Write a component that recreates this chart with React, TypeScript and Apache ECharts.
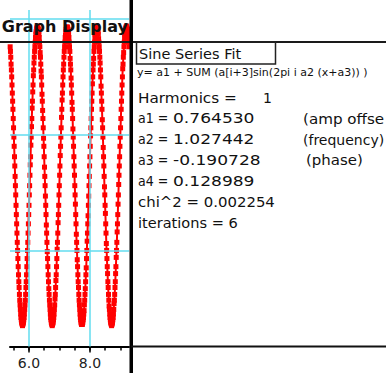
import React, { useEffect, useRef } from "react";
import * as echarts from "echarts";

// ---- data ----
const timeStart = 5.382; // first sample time
const sampleStep = 0.01014; // sampling interval
const signal = [
  // descending from first (clipped) peak
  0.876, 0.872, 0.867, 0.861, 0.856, 0.850, 0.843, 0.836, 0.829, 0.822, 0.814, 0.806, 0.798, 0.790, 0.781, 0.773,
  0.764,
  0.756, 0.748, 0.739, 0.731, 0.723, 0.715, 0.707, 0.700, 0.693, 0.686, 0.679, 0.673, 0.668, 0.662, 0.657, 0.653, 0.649, 0.645, 0.642, 0.640, 0.638, 0.637, 0.636, 0.635,
  0.636, 0.637, 0.638, 0.640, 0.642, 0.645, 0.649, 0.653, 0.657, 0.662, 0.668, 0.673, 0.679, 0.686, 0.693, 0.700, 0.707, 0.715, 0.723, 0.731, 0.739, 0.748, 0.756,
  // cycle 1
  0.765, 0.774, 0.781, 0.791, 0.798, 0.807, 0.814, 0.823, 0.829, 0.837, 0.843, 0.851, 0.856, 0.862, 0.867, 0.872, 0.876, 0.880, 0.884, 0.887, 0.889, 0.891, 0.892, 0.893, 0.894,
  0.893, 0.892, 0.891, 0.889, 0.887, 0.884, 0.880, 0.876, 0.871, 0.867, 0.861, 0.855, 0.850, 0.843, 0.835, 0.829, 0.821, 0.814, 0.806, 0.797, 0.790, 0.781, 0.772,
  0.764,
  0.756, 0.747, 0.739, 0.731, 0.722, 0.715, 0.707, 0.699, 0.693, 0.686, 0.679, 0.673, 0.667, 0.662, 0.657, 0.653, 0.649, 0.645, 0.642, 0.640, 0.638, 0.637, 0.636, 0.635,
  0.636, 0.637, 0.638, 0.640, 0.642, 0.645, 0.649, 0.653, 0.658, 0.662, 0.668, 0.674, 0.679, 0.686, 0.693, 0.701, 0.707, 0.715, 0.724, 0.731, 0.739, 0.748, 0.756,
  // cycle 2
  0.765, 0.773, 0.782, 0.790, 0.798, 0.806, 0.815, 0.822, 0.830, 0.836, 0.843, 0.850, 0.856, 0.861, 0.867, 0.872, 0.876, 0.880, 0.884, 0.886, 0.889, 0.891, 0.892, 0.893, 0.893,
  0.893, 0.892, 0.891, 0.889, 0.887, 0.884, 0.880, 0.876, 0.872, 0.866, 0.861, 0.856, 0.849, 0.843, 0.836, 0.828, 0.822, 0.814, 0.805, 0.798, 0.790, 0.781, 0.773,
  0.765,
  0.756, 0.748, 0.740, 0.731, 0.723, 0.714, 0.707, 0.700, 0.692, 0.686, 0.679, 0.673, 0.668, 0.662, 0.657, 0.653, 0.649, 0.645, 0.642, 0.640, 0.638, 0.637, 0.636, 0.636,
  0.636, 0.637, 0.638, 0.640, 0.642, 0.645, 0.648, 0.653, 0.657, 0.662, 0.667, 0.673, 0.679, 0.685, 0.693, 0.700, 0.708, 0.715, 0.723, 0.730, 0.739, 0.747, 0.756,
  // cycle 3
  0.764, 0.773, 0.781, 0.790, 0.799, 0.806, 0.814, 0.822, 0.829, 0.836, 0.844, 0.850, 0.856, 0.861, 0.866, 0.872, 0.876, 0.880, 0.884, 0.887, 0.889, 0.891, 0.892, 0.893, 0.894,
  0.893, 0.892, 0.891, 0.889, 0.887, 0.883, 0.880, 0.876, 0.872, 0.867, 0.862, 0.856, 0.850, 0.842, 0.836, 0.829, 0.822, 0.813, 0.806, 0.798, 0.789, 0.781, 0.773,
  0.764,
  0.755, 0.748, 0.739, 0.732, 0.723, 0.715, 0.706, 0.700, 0.693, 0.686, 0.680, 0.673, 0.668, 0.662, 0.657, 0.652, 0.649, 0.645, 0.642, 0.640, 0.638, 0.637, 0.636, 0.635,
  0.636, 0.637, 0.638, 0.640, 0.642, 0.645, 0.649, 0.654, 0.657, 0.662, 0.668, 0.673, 0.680, 0.686, 0.694, 0.700, 0.707, 0.716, 0.723, 0.731, 0.740, 0.748, 0.757,
  // cycle 4 (partial)
  0.765, 0.773, 0.781, 0.790, 0.798, 0.806, 0.814, 0.822, 0.829, 0.836, 0.843, 0.850, 0.857, 0.861, 0.867, 0.871, 0.876, 0.880, 0.884, 0.887, 0.889, 0.891, 0.892, 0.893, 0.894,
  0.893, 0.892, 0.891, 0.889, 0.887, 0.884, 0.880, 0.876,
];

const xMin = 5.377;
const xMax = 9.279;
const yMin = 0.617;
const yMax = 0.9078;
const xMinorTicks = [5.5, 6, 6.5, 7, 7.5, 8, 8.5, 9];
const xMajorTicks = [6, 8];
const yGridValues = [0.9, 0.8, 0.7];
const xGridValues = [6, 8];

const titleText = "Graph Display";
const fitTitle = "Sine Series Fit";
const fitEquation = "y= a1 + SUM (a[i+3]sin(2pi i a2 (x+a3)) )";
const harmonicsLabel = "Harmonics =";
const harmonics = "1";
const paramNames = ["a1 =", "a2 =", "a3 =", "a4 ="];
const paramValues = ["0.764530", "1.027442", "-0.190728", "0.128989"];
const paramNotes = ["(amp offse", "(frequency)", "(phase)", ""];
const chiLine = "chi^2 = 0.002254";
const iterLine = "iterations = 6";

const FONT = '"DejaVu Sans", sans-serif';

export default function App() {
  const ref = useRef<HTMLDivElement>(null);

  useEffect(() => {
    if (!ref.current) return;
    const chart = echarts.init(ref.current, undefined, { renderer: "svg" });

    const points = signal.map((v, i) => [timeStart + i * sampleStep, v]);

    const txt = (text: string, x: number, y: number, size: number, scaleX = 1, bold = false, align = "left") => ({
      type: "text",
      x,
      y,
      scaleX,
      z: 100,
      silent: true,
      style: {
        text,
        x: 0,
        y: 0,
        font: `${bold ? "bold " : ""}${size}px ${FONT}`,
        fill: "#111",
        textAlign: align,
        textVerticalAlign: "middle",
        verticalAlign: "middle",
      },
    });

    const rowY = [118.5, 139.5, 160.5, 181.5];
    const noteX = [303, 303, 306, 303];
    const noteScale = [1.08, 1, 1.07, 1];
    const graphics: any[] = [
      // title
      txt(titleText, 128, 26.5, 16, 1, true, "right"),
      // line under title, across whole window
      { type: "rect", z: 100, silent: true, shape: { x: 0, y: 41, width: 386, height: 2 }, style: { fill: "#1a1a1a" } },
      // thick vertical divider
      { type: "rect", z: 100, silent: true, shape: { x: 129.5, y: 0, width: 3.5, height: 373 }, style: { fill: "#000" } },
      // bottom line of right panel
      { type: "rect", z: 100, silent: true, shape: { x: 131, y: 345.5, width: 255, height: 2 }, style: { fill: "#111" } },
      // box around "Sine Series Fit"
      { type: "rect", z: 100, silent: true, shape: { x: 136.5, y: 42, width: 139, height: 22 }, style: { fill: "transparent", stroke: "#222", lineWidth: 1.5 } },
      txt(fitTitle, 139, 54, 14.5),
      txt(fitEquation, 137, 72, 11),
      txt(harmonicsLabel, 138, 97.5, 14, 1.09),
      txt(harmonics, 263, 97.5, 14),
      txt(chiLine, 138, 202.5, 14, 1.066),
      txt(iterLine, 138, 223.5, 14, 1.04),
    ];
    paramNames.forEach((n, i) => {
      graphics.push(txt(n, 138, rowY[i], 14, 0.9));
      graphics.push(txt(paramValues[i], 173, rowY[i], 14, 1.22));
      if (paramNotes[i]) graphics.push(txt(paramNotes[i], noteX[i], rowY[i], 14, noteScale[i]));
    });

    chart.setOption({
      animation: false,
      grid: { left: 10, top: 10, width: 119, height: 336.5 },
      xAxis: [
        {
          type: "value",
          min: xMin,
          max: xMax,
          axisLine: { show: true, lineStyle: { color: "#000", width: 2 } },
          axisTick: { show: true, customValues: xMinorTicks, length: 4, lineStyle: { color: "#000", width: 1.5 } },
          axisLabel: { show: false },
          splitLine: { show: false },
        },
        {
          type: "value",
          position: "bottom",
          offset: 0,
          min: xMin,
          max: xMax,
          axisLine: { show: false },
          axisTick: { show: true, customValues: xMajorTicks, length: 6, lineStyle: { color: "#000", width: 1.5 } },
          axisLabel: {
            show: true,
            customValues: xMajorTicks,
            formatter: (v: number) => v.toFixed(1),
            margin: 9,
            fontSize: 14,
            fontFamily: FONT,
            color: "#222",
          },
          splitLine: { show: false },
        },
      ],
      yAxis: { type: "value", min: yMin, max: yMax, show: false, splitLine: { show: false } },
      series: [
        {
          type: "line",
          data: [[6, 0.7]],
          symbol: "none",
          lineStyle: { width: 0 },
          silent: true,
          z: 1,
          markLine: {
            silent: true,
            symbol: ["none", "none"],
            label: { show: false },
            lineStyle: { color: "#62dcef", width: 1.5, type: "solid" },
            data: [...yGridValues.map((v) => ({ yAxis: v })), ...xGridValues.map((v) => ({ xAxis: v }))],
          },
        },
        {
          type: "line",
          data: points,
          symbol: "rect",
          symbolSize: 5,
          showSymbol: true,
          showAllSymbol: true,
          itemStyle: { color: "#ff0000" },
          lineStyle: { color: "#ff0000", width: 2 },
          silent: true,
          z: 3,
        },
      ],
      graphic: { elements: graphics },
    });

    return () => chart.dispose();
  }, []);

  return (
    <div
      ref={ref}
      style={{ position: "fixed", left: 0, top: 0, width: 386, height: 373, background: "#fff" }}
    />
  );
}
